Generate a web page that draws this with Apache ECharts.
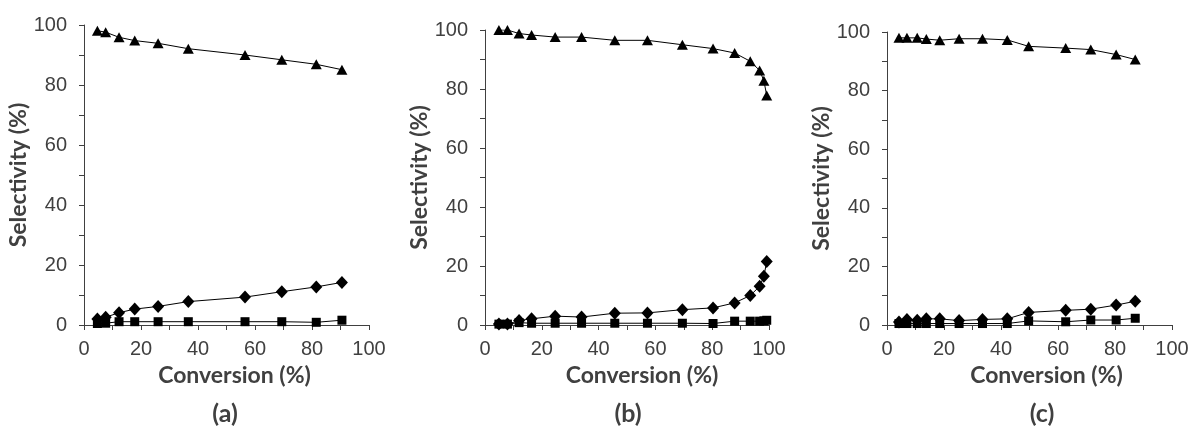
<!DOCTYPE html>
<html>
<head>
<meta charset="utf-8">
<script src="https://cdn.jsdelivr.net/npm/echarts@6/dist/echarts.min.js"></script>
<style>
html,body{margin:0;padding:0;background:#fff;}
#chart{width:1192px;height:427px;}
</style>
</head>
<body>
<div id="chart"></div>
<script>
// Panel (a)
var convA = [4.7, 7.6, 12.3, 17.8, 26.0, 36.6, 56.5, 69.4, 81.5, 90.5];
var triA  = [98.1, 97.6, 95.9, 94.8, 93.9, 92.1, 90.0, 88.4, 86.9, 85.1];
var diaA  = [2.0, 2.6, 4.1, 5.3, 6.2, 7.8, 9.3, 11.1, 12.7, 14.2];
var sqA   = [0.5, 0.6, 1.1, 1.1, 1.1, 1.1, 1.1, 1.1, 0.9, 1.6];
// Panel (b)
var convB = [4.9, 7.9, 12.0, 16.4, 24.7, 34.0, 45.7, 57.2, 69.5, 80.3, 87.9, 93.4, 96.7, 98.2, 99.2];
var triB  = [100, 100, 98.8, 98.3, 97.6, 97.6, 96.5, 96.5, 95.0, 93.7, 92.2, 89.4, 86.3, 82.8, 77.8];
var diaB  = [0.3, 0.3, 1.5, 2.1, 3.0, 2.7, 4.0, 4.1, 5.2, 5.8, 7.5, 10.0, 13.1, 16.5, 21.5];
var sqB   = [0.3, 0.3, 0.8, 0.6, 0.6, 0.6, 0.6, 0.6, 0.6, 0.5, 1.3, 1.3, 1.3, 1.4, 1.6];
// Panel (c)
var convC = [4.2, 7.0, 10.6, 13.8, 18.5, 25.3, 33.5, 42.2, 49.7, 62.7, 71.5, 80.4, 87.1];
var triC  = [98.0, 98.0, 98.0, 97.6, 97.2, 97.7, 97.7, 97.3, 95.1, 94.5, 94.0, 92.3, 90.6];
var diaC  = [1.0, 1.9, 1.6, 2.1, 2.1, 1.5, 1.9, 2.1, 4.3, 5.0, 5.4, 6.8, 8.1];
var sqC   = [0.5, 0.5, 0.5, 0.5, 0.5, 0.5, 0.5, 0.5, 1.4, 1.1, 1.7, 1.7, 2.3];

var panelLabels = ['(a)', '(b)', '(c)'];
var xTitle = 'Conversion (%)';
var yTitle = 'Selectivity (%)';

var panels = [
  {conv: convA, tri: triA, dia: diaA, sq: sqA},
  {conv: convB, tri: triB, dia: diaB, sq: sqB},
  {conv: convC, tri: triC, dia: diaC, sq: sqC}
];

var grids = [
  {left: 84, top: 25, width: 285, height: 300},
  {left: 485, top: 30, width: 284, height: 295},
  {left: 887, top: 32, width: 285, height: 293}
];
var labelCenters = [220, 623, 1037];
var xTitleShift = [16, 30, 34];

var textColor = '#404040';
var axisColor = '#404040';
var tickFont = {fontFamily: 'Liberation Sans', fontSize: 20, color: textColor};
var titleFont = {fontFamily: 'Lato', fontWeight: 'bold', fontSize: 23, color: textColor};

function zip(xs, ys) { return xs.map(function (x, i) { return [x, ys[i]]; }); }

var option = {
  backgroundColor: '#fff',
  animation: false,
  grid: grids.map(function (g) { return Object.assign({containLabel: false}, g); }),
  title: panelLabels.map(function (t, i) {
    return {text: t, left: labelCenters[i], top: 396, textAlign: 'center',
      textStyle: {fontFamily: 'Lato', fontWeight: 'bold', fontSize: 25, color: textColor}};
  }),
  xAxis: grids.map(function (g, i) {
    return {
      type: 'value', gridIndex: i, min: 0, max: 100, interval: 20,
      name: xTitle, nameLocation: 'middle', nameGap: 37,
      nameTextStyle: Object.assign({padding: [0, 0, 0, xTitleShift[i]]}, titleFont),
      axisLine: {show: true, onZero: false, lineStyle: {color: axisColor, width: 1}},
      axisTick: {show: true, length: 5, lineStyle: {color: axisColor}},
      minorTick: {show: true, splitNumber: 2, length: 5, lineStyle: {color: axisColor}},
      splitLine: {show: false},
      axisLabel: Object.assign({margin: 14}, tickFont)
    };
  }),
  yAxis: grids.map(function (g, i) {
    return {
      type: 'value', gridIndex: i, min: 0, max: 100, interval: 20,
      name: yTitle, nameLocation: 'middle', nameGap: 47, nameRotate: 90,
      nameTextStyle: titleFont,
      axisLine: {show: true, lineStyle: {color: axisColor, width: 1}},
      axisTick: {show: true, length: 5, lineStyle: {color: axisColor}},
      minorTick: {show: true, splitNumber: 2, length: 5, lineStyle: {color: axisColor}},
      splitLine: {show: false},
      axisLabel: Object.assign({margin: 17}, tickFont)
    };
  }),
  series: []
};

panels.forEach(function (p, i) {
  var common = {type: 'line', xAxisIndex: i, yAxisIndex: i, showAllSymbol: true,
    lineStyle: {color: '#000', width: 1}, itemStyle: {color: '#000'}, z: 3};
  option.series.push(Object.assign({}, common, {name: 'tri' + i, data: zip(p.conv, p.tri), symbol: 'triangle', symbolSize: [11, 10]}));
  option.series.push(Object.assign({}, common, {name: 'dia' + i, data: zip(p.conv, p.dia), symbol: 'diamond', symbolSize: [12, 13]}));
  option.series.push(Object.assign({}, common, {name: 'sq' + i, data: zip(p.conv, p.sq), symbol: 'rect', symbolSize: 9}));
});

var chart = echarts.init(document.getElementById('chart'), null, {renderer: 'canvas'});
chart.setOption(option);
</script>
</body>
</html>
